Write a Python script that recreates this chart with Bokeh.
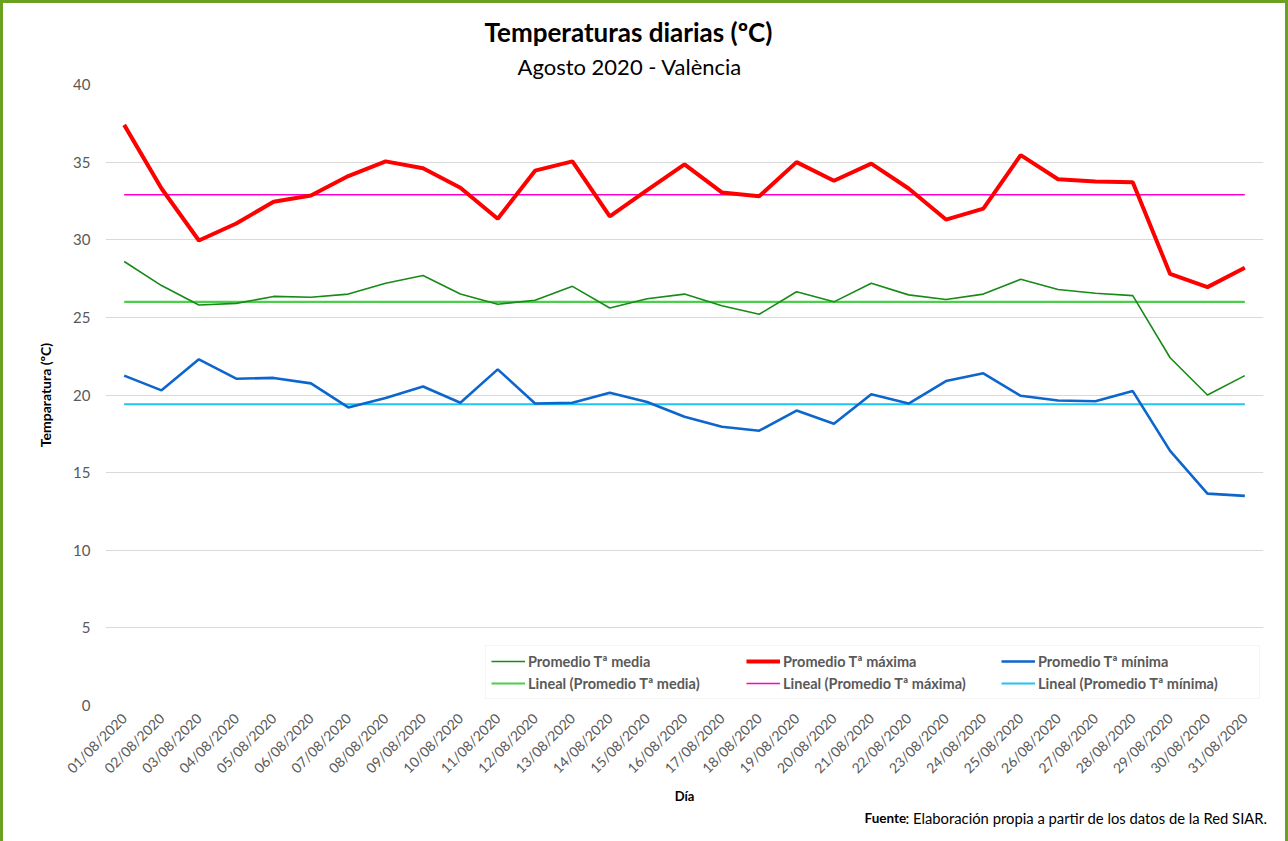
import math
from bokeh.plotting import figure
from bokeh.layouts import column
from bokeh.models import (Range1d, FixedTicker, Legend, LegendItem, Label, Title)
from bokeh.embed import file_html
from bokeh.resources import INLINE

# ---------------- data ----------------
days = [1, 2, 3, 4, 5, 6, 7, 8, 9, 10, 11, 12, 13, 14, 15, 16,
        17, 18, 19, 20, 21, 22, 23, 24, 25, 26, 27, 28, 29, 30, 31]
date_labels = ["01/08/2020", "02/08/2020", "03/08/2020", "04/08/2020", "05/08/2020",
               "06/08/2020", "07/08/2020", "08/08/2020", "09/08/2020", "10/08/2020",
               "11/08/2020", "12/08/2020", "13/08/2020", "14/08/2020", "15/08/2020",
               "16/08/2020", "17/08/2020", "18/08/2020", "19/08/2020", "20/08/2020",
               "21/08/2020", "22/08/2020", "23/08/2020", "24/08/2020", "25/08/2020",
               "26/08/2020", "27/08/2020", "28/08/2020", "29/08/2020", "30/08/2020",
               "31/08/2020"]
t_media = [28.6, 27.05, 25.8, 25.9, 26.35, 26.3, 26.5, 27.2, 27.7, 26.5, 25.85,
           26.1, 27.0, 25.6, 26.2, 26.5, 25.75, 25.2, 26.65, 26.0, 27.2, 26.45,
           26.15, 26.5, 27.45, 26.8, 26.55, 26.4, 22.4, 20.0, 21.25]
t_max = [37.4, 33.3, 29.95, 31.05, 32.45, 32.85, 34.1, 35.05, 34.6, 33.35, 31.35,
         34.45, 35.05, 31.5, 33.2, 34.85, 33.05, 32.8, 35.0, 33.8, 34.9, 33.3,
         31.3, 32.0, 35.45, 33.9, 33.75, 33.7, 27.8, 26.95, 28.2]
t_min = [21.25, 20.3, 22.3, 21.05, 21.1, 20.75, 19.2, 19.8, 20.55, 19.5, 21.65,
         19.45, 19.5, 20.15, 19.55, 18.6, 17.95, 17.7, 19.0, 18.15, 20.05, 19.45,
         20.9, 21.4, 19.95, 19.65, 19.6, 20.25, 16.4, 13.65, 13.5]
# trend lines (Lineal) as drawn: flat levels
trend_x = [1, 31]
trend_media = [26.0, 26.0]
trend_max = [32.9, 32.9]
trend_min = [19.4, 19.4]
y_ticks = [0, 5, 10, 15, 20, 25, 30, 35, 40]

title_text = "Temperaturas diarias (ºC)"
subtitle_text = "Agosto 2020 - València"
source_bold = "Fuente"
source_text = ": Elaboración propia a partir de los datos de la Red SIAR."

FONT = "Lato"
GREY = "#595959"
FL, FR = 105, 1263   # plot frame edges in page pixels
TOTAL_W = 1282       # canvas width
HEAD_H = 47

# ---------------- header (frame aligned with main frame; x in page pixels) ----------------
head = figure(frame_width=TOTAL_W, frame_height=HEAD_H, min_border=0,
              x_range=Range1d(FL, FL + TOTAL_W), y_range=Range1d(0, HEAD_H),
              x_axis_type=None, y_axis_type=None, output_backend="svg",
              toolbar_location=None, tools="")
head.outline_line_color = None
head.grid.grid_line_color = None
head.add_layout(Label(x=628, y=HEAD_H + 5 - 33, text=title_text, text_align="center",
                      text_baseline="middle", text_font=FONT, text_font_size="26px",
                      text_font_style="bold", text_color="black"))

# ---------------- main chart ----------------
p = figure(frame_width=FR - FL, frame_height=621,
           min_border_left=102, min_border_right=22, min_border_top=84 - 3 - HEAD_H,
           min_border_bottom=100,
           x_range=Range1d(0.5, 31.5), y_range=Range1d(0, 40),
           output_backend="svg", toolbar_location=None, tools="",
           background_fill_color="white", border_fill_color="white")
p.outline_line_color = None
p.add_layout(Title(text=subtitle_text, align="left", offset=412, standoff=5,
                   vertical_align="top",
                   text_font=FONT, text_font_size="22px", text_font_style="normal",
                   text_color="black"), "above")

p.xaxis.ticker = FixedTicker(ticks=days)
p.xaxis.major_label_overrides = {d: s for d, s in zip(days, date_labels)}
p.xaxis.major_label_orientation = math.pi / 4
p.xaxis.axis_line_color = None
p.xaxis.major_tick_line_color = None
p.xaxis.minor_tick_line_color = None
p.xaxis.major_label_text_font = FONT
p.xaxis.major_label_text_font_size = "14px"
p.xaxis.major_label_text_color = GREY
p.xaxis.major_label_standoff = 4
p.xaxis.axis_label = "Día"
p.xaxis.axis_label_text_font = FONT
p.xaxis.axis_label_text_font_size = "13px"
p.xaxis.axis_label_text_font_style = "bold"
p.xaxis.axis_label_text_color = "black"
p.xaxis.axis_label_standoff = 3

p.yaxis.ticker = FixedTicker(ticks=y_ticks)
p.yaxis.axis_line_color = None
p.yaxis.major_tick_line_color = None
p.yaxis.minor_tick_line_color = None
p.yaxis.major_label_text_font = FONT
p.yaxis.major_label_text_font_size = "15px"
p.yaxis.major_label_text_color = GREY
p.yaxis.major_label_standoff = 9
p.yaxis.axis_label = "Temparatura (ºC)"
p.yaxis.axis_label_text_font = FONT
p.yaxis.axis_label_text_font_size = "14px"
p.yaxis.axis_label_text_font_style = "bold"
p.yaxis.axis_label_text_color = "black"
p.yaxis.axis_label_standoff = 16

p.xgrid.grid_line_color = None
p.ygrid.grid_line_color = "#d9d9d9"
p.ygrid.grid_line_width = 1

r_tl_media = p.line(trend_x, trend_media, line_color="#4cce4c", line_width=2.2)
r_tl_max = p.line(trend_x, trend_max, line_color="#ff00c8", line_width=1.6)
r_tl_min = p.line(trend_x, trend_min, line_color="#1fc4f2", line_width=2)
r_media = p.line(days, t_media, line_color="#178a17", line_width=1.6)
r_min = p.line(days, t_min, line_color="#0d66cc", line_width=2.6)
r_max = p.line(days, t_max, line_color="#ff0000", line_width=4)

legend = Legend(items=[
    LegendItem(label="Promedio Tª media", renderers=[r_media]),
    LegendItem(label="Promedio Tª máxima", renderers=[r_max]),
    LegendItem(label="Promedio Tª mínima", renderers=[r_min]),
    LegendItem(label="Lineal (Promedio Tª media)", renderers=[r_tl_media]),
    LegendItem(label="Lineal (Promedio Tª máxima)", renderers=[r_tl_max]),
    LegendItem(label="Lineal (Promedio Tª mínima)", renderers=[r_tl_min]),
], location=(380, 6), orientation="horizontal", ncols=3)
legend.glyph_width = 34
legend.glyph_height = 20
legend.label_height = 20
legend.label_standoff = 3
legend.label_width = 216
legend.spacing = 2
legend.padding = 5
legend.margin = 0
legend.label_text_font = FONT
legend.label_text_font_size = "14.5px"
legend.label_text_font_style = "bold"
legend.label_text_color = GREY
legend.border_line_color = "#ececec"
legend.background_fill_color = "white"
legend.background_fill_alpha = 1
p.add_layout(legend, "center")

# ---------------- footer (frame aligned with main frame; x in page pixels) ----------------
foot = figure(frame_width=TOTAL_W, frame_height=36, min_border=0,
              x_range=Range1d(FL, FL + TOTAL_W), y_range=Range1d(0, 36),
              x_axis_type=None, y_axis_type=None, output_backend="svg",
              toolbar_location=None, tools="")
foot.outline_line_color = None
foot.grid.grid_line_color = None
foot.add_layout(Label(x=864, y=26, text=source_bold, text_align="left",
                      text_baseline="middle", text_font=FONT, text_font_size="13.5px",
                      text_font_style="bold", text_color="black"))
foot.add_layout(Label(x=905, y=26, text=source_text, text_align="left",
                      text_baseline="middle", text_font=FONT,
                      text_font_size="14.8px", text_color="black"))

layout = column(head, p, foot, spacing=0)
layout.styles = {"border-left": "3px solid #6aa121", "border-top": "3px solid #6aa121",
                 "border-right": "3px solid #6aa121", "background-color": "white"}

open("out.html", "w").write(file_html(layout, INLINE))
